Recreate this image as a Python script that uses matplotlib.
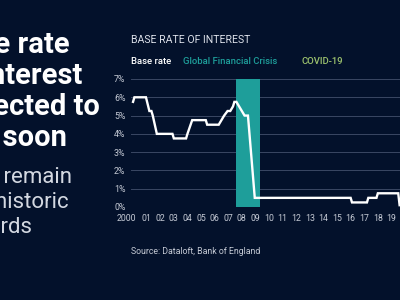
import matplotlib
matplotlib.use('Agg')
import matplotlib.pyplot as plt
from matplotlib.transforms import ScaledTranslation

# base rate of interest (year, percent)
years = [2000.0, 2000.1, 2000.95, 2001.2, 2001.35, 2001.45, 2001.75,
         2002.9, 2003.0, 2003.9, 2004.0, 2004.35, 2005.35, 2005.45,
         2006.3, 2006.5, 2006.7, 2006.95, 2007.15, 2007.35, 2007.45,
         2007.6, 2007.8, 2008.0, 2008.2, 2008.45, 2008.95,
         2016.0, 2016.1, 2017.2, 2017.3, 2017.9, 2018.0, 2019.5, 2019.6]
rates = [5.75, 6.0, 6.0, 5.25, 5.25, 5.0, 4.0,
         4.0, 3.75, 3.75, 4.0, 4.75, 4.75, 4.5,
         4.5, 4.75, 5.0, 5.25, 5.25, 5.5, 5.75,
         5.75, 5.5, 5.25, 5.0, 5.0, 0.5,
         0.5, 0.25, 0.25, 0.5, 0.5, 0.75, 0.75, 0.1]
gfc = (2007.55, 2009.33)
year_ticks = list(range(2000, 2022))
year_labels = ['2000'] + ['%02d' % (y % 100) for y in year_ticks[1:]]
pct_ticks = list(range(0, 8))

headline = ['Base rate', 'of interest', 'expected to', 'rise soon']
subline = ['It will remain', 'low by historic', 'standards']

BG = '#03112b'
TEAL = '#1e9e9a'
COVID = '#9ec46e'
GRID = '#3a4763'
TICK = '#c4c9d4'

plt.rcParams['font.family'] = ['Roboto', 'DejaVu Sans']

fig = plt.figure(figsize=(4, 3), dpi=100, facecolor=BG)
W, H = 400, 300

def fx(px):
    return px / W

def fy(py):
    return 1 - py / H

# chart axes, deliberately running past the right edge like the cropped slide
x0, x1 = 1999.85, 2021.5
ax = fig.add_axes([fx(131), fy(207), (x1 - x0) * 13.6 / W, 128 / H])
ax.set_facecolor(BG)
ax.set_xlim(x0, x1)
ax.set_ylim(0, 7)
for s in ax.spines.values():
    s.set_visible(False)
ax.set_yticks(pct_ticks)
ax.set_yticklabels(['%d%%' % p for p in pct_ticks])
ax.set_xticks(year_ticks)
ax.set_xticklabels(year_labels)
ax.tick_params(length=0, colors=TICK, labelsize=6.3)
ax.tick_params(axis='y', pad=4)
ax.tick_params(axis='x', pad=5)
ax.grid(axis='y', color=GRID, linewidth=0.7)
ax.set_axisbelow(True)

# the '2000' label sits a little left of its tick in the original
first = ax.get_xticklabels()[0]
first.set_transform(first.get_transform() + ScaledTranslation(-7 / 100, 0, fig.dpi_scale_trans))

ax.axvspan(gfc[0], gfc[1], color=TEAL, lw=0, zorder=1)
ax.plot(years, rates, color='white', lw=1.7, zorder=3, solid_joinstyle='miter')

# titles and legend text
fig.text(fx(131), fy(40), 'BASE RATE OF INTEREST', color='#dde1ea',
         fontsize=7.6, va='center', ha='left')
fig.text(fx(131), fy(61), 'Base rate', color='white', fontsize=6.8,
         fontweight='medium', va='center')
fig.text(fx(183), fy(61), 'Global Financial Crisis', color=TEAL, fontsize=6.8,
         fontweight='medium', va='center')
fig.text(fx(301), fy(61), 'COVID-19', color=COVID, fontsize=6.8,
         fontweight='medium', va='center')
fig.text(fx(131), fy(252), 'Source: Dataloft, Bank of England', color=TICK,
         fontsize=6.3, va='center')

# cropped slide text on the left
for txt, right, base in zip(headline, [70, 82, 100, 67], [53, 84, 115, 146]):
    fig.text(fx(right), fy(base), txt, color='white', fontsize=21,
             fontweight='bold', ha='right', va='baseline')
for txt, right, base in zip(subline, [72, 69, 32], [183, 208, 233]):
    fig.text(fx(right), fy(base), txt, color='#d3d8e1', fontsize=16,
             fontweight='normal', ha='right', va='baseline')

fig.savefig('out.png', dpi=100, facecolor=BG)
